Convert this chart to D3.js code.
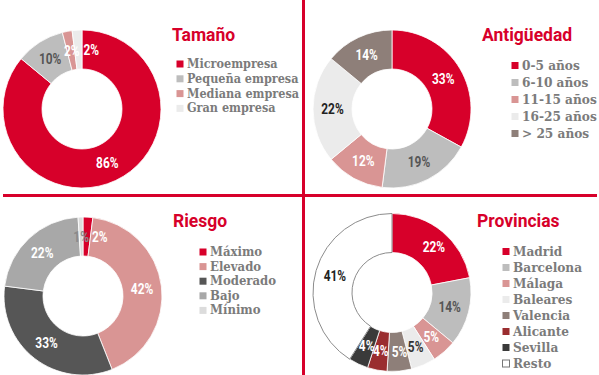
<!DOCTYPE html>
<html>
<head>
<meta charset="utf-8">
<script src="https://cdn.jsdelivr.net/npm/d3@7"></script>
<style>
  html, body { margin: 0; padding: 0; background: #fff; }
  #chart { width: 599px; height: 375px; }
</style>
</head>
<body>
<div id="chart"></div>
<script>
// ---- data ----
const tamanoLabels = ["Microempresa", "Pequeña empresa", "Mediana empresa", "Gran empresa"];
const tamanoValues = [86, 10, 2, 2];

const antigLabels = ["0-5 años", "6-10 años", "11-15 años", "16-25 años", "> 25 años"];
const antigValues = [33, 19, 12, 22, 14];

const riesgoLabels = ["Máximo", "Elevado", "Moderado", "Bajo", "Mínimo"];
const riesgoValues = [2, 42, 33, 22, 1];

const provLabels = ["Madrid", "Barcelona", "Málaga", "Baleares", "Valencia", "Alicante", "Sevilla", "Resto"];
const provValues = [22, 14, 5, 5, 5, 4, 4, 41];

// ---- styles ----
const RED = "#d7002a", GRAY = "#bdbdbd", PINK = "#d99594", LIGHT = "#ebebeb",
      TAUPE = "#8e7f79", DARK = "#565656", MID = "#a8a8a8", PALE = "#dcdcdc",
      WINE = "#9a2d2f", CHAR = "#3a3a3a";
const LEG = "#7b7b7b";

const panels = [
  { title: "Tamaño", labels: tamanoLabels, values: tamanoValues,
    colors: [RED, GRAY, PINK, LIGHT],
    text: ["#fff", "#555", "#fff", "#fff"], nudge: [0, 0, 1, 13],
    cx: 82, cy: 109, tx: 172, ty: 41, lx: 176, ly: 68, step: 14.8, fs: 12.5 },
  { title: "Antigüedad", labels: antigLabels, values: antigValues,
    colors: [RED, GRAY, PINK, LIGHT, TAUPE],
    text: ["#fff", "#555", "#fff", "#222", "#fff"], nudge: [0, 0, 0, 0, 0],
    cx: 392, cy: 109, tx: 482, ty: 41, lx: 511, ly: 69.5, step: 17, fs: 13.5 },
  { title: "Riesgo", labels: riesgoLabels, values: riesgoValues,
    colors: [RED, PINK, DARK, MID, PALE],
    text: ["#fff", "#fff", "#fff", "#fff", "#8a8a8a"], nudge: [13, 0, 0, 0, 0],
    cx: 83, cy: 296, tx: 173, ty: 227, lx: 199, ly: 256, step: 14.6, fs: 13 },
  { title: "Provincias", labels: provLabels, values: provValues,
    colors: [RED, GRAY, PINK, LIGHT, TAUPE, WINE, CHAR, "#fff"],
    text: ["#fff", "#555", "#fff", "#333", "#fff", "#fff", "#fff", "#222"],
    nudge: [4, 0, 0, 0, 2, 0, 0, 0],
    cx: 392, cy: 292.5, tx: 477, ty: 227, lx: 502, ly: 255.5, step: 16, fs: 13.5 },
];

const W = 599, H = 375;
const svg = d3.select("#chart").append("svg")
  .attr("width", W).attr("height", H).attr("viewBox", `0 0 ${W} ${H}`);

const arc = d3.arc().innerRadius(40).outerRadius(79);
const pie = d3.pie().sort(null).value(d => d);

panels.forEach(p => {
  const g = svg.append("g").attr("transform", `translate(${p.cx},${p.cy})`);
  const arcs = pie(p.values);

  g.selectAll("path").data(arcs).enter().append("path")
    .attr("d", arc)
    .attr("fill", (d, i) => p.colors[i])
    .attr("stroke", (d, i) => p.colors[i] === "#fff" ? "#8c8c8c" : "#fff")
    .attr("stroke-width", (d, i) => p.colors[i] === "#fff" ? 1 : 0.8);

  // percentage labels, squeezed horizontally to mimic the condensed face
  g.selectAll("text.pct").data(arcs).enter().append("text")
    .attr("class", "pct")
    .attr("transform", (d, i) => {
      const c = arc.centroid(d);
      return `translate(${c[0] + p.nudge[i]},${c[1]}) scale(0.85,1)`;
    })
    .attr("dy", "0.36em")
    .attr("text-anchor", "middle")
    .style("font-family", "Roboto, sans-serif")
    .style("font-weight", "700").style("font-size", "14px")
    .style("fill", (d, i) => p.text[i])
    .text(d => d.data + "%");

  svg.append("text").attr("x", p.tx).attr("y", p.ty)
    .style("font-family", "Roboto, sans-serif").style("font-weight", "700")
    .style("font-size", "17.5px").style("fill", RED)
    .text(p.title);

  const leg = svg.append("g").attr("transform", `translate(${p.lx},${p.ly})`);
  const rows = leg.selectAll("g").data(p.labels).enter().append("g")
    .attr("transform", (d, i) => `translate(0,${i * p.step})`);
  rows.append("rect")
    .attr("x", 0.5).attr("y", -7.5).attr("width", 7).attr("height", 7)
    .attr("fill", (d, i) => p.colors[i])
    .attr("stroke", (d, i) => p.colors[i] === "#fff" ? "#777" : "none");
  rows.append("text")
    .attr("x", 11).attr("y", 0)
    .style("font-family", "'DejaVu Serif Condensed', 'DejaVu Serif', serif")
    .style("font-stretch", "condensed")
    .style("font-weight", "700").style("font-size", p.fs + "px")
    .style("fill", LEG)
    .text(d => d);
});

// dividing red cross
svg.append("line").attr("x1", 303.5).attr("x2", 303.5).attr("y1", 0).attr("y2", H)
  .attr("stroke", RED).attr("stroke-width", 3);
svg.append("line").attr("x1", 3).attr("x2", 597).attr("y1", 195.5).attr("y2", 195.5)
  .attr("stroke", RED).attr("stroke-width", 3);
</script>
</body>
</html>
